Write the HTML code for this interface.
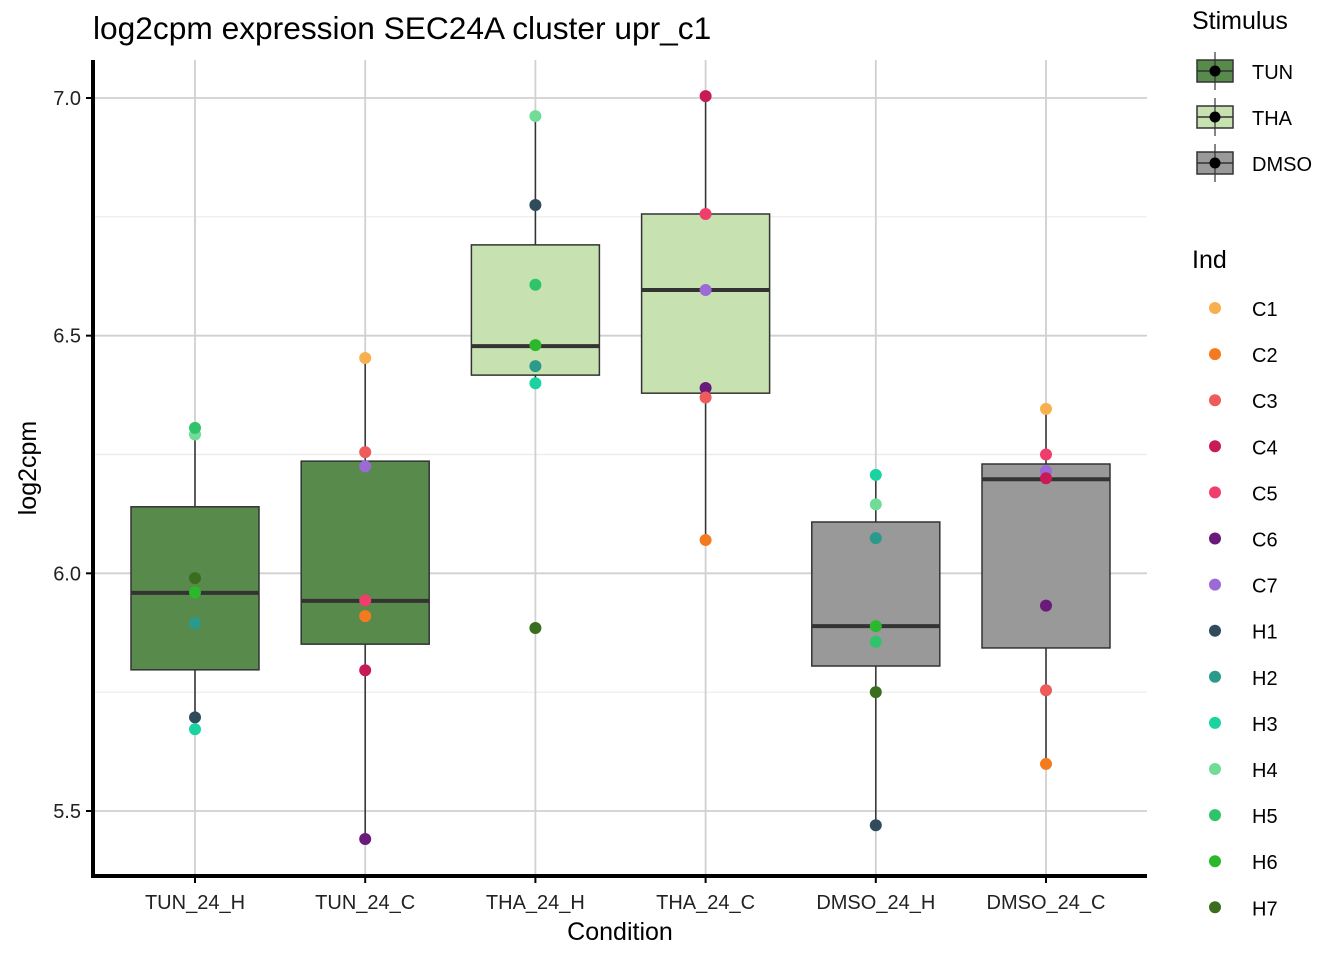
<!DOCTYPE html>
<html><head><meta charset="utf-8"><style>
body{margin:0;background:#fff;font-family:"Liberation Sans",Arial,sans-serif}
svg text{font-family:"Liberation Sans",Arial,sans-serif}
</style></head><body>
<svg id="chart" width="1344" height="960" xmlns="http://www.w3.org/2000/svg">
<text x="93" y="39" font-size="31.7" fill="#000">log2cpm expression SEC24A cluster upr_c1</text>
<g id="grid"></g><g id="boxes"></g><g id="pts"></g><g id="axes"></g><g id="legend"></g>
</svg>
<script>
const categories=["TUN_24_H","TUN_24_C","THA_24_H","THA_24_C","DMSO_24_H","DMSO_24_C"];
const stimulus=["TUN","TUN","THA","THA","DMSO","DMSO"];
const q1=[5.797,5.851,6.417,6.379,5.805,5.843];
const med=[5.959,5.942,6.478,6.596,5.889,6.198];
const q3=[6.140,6.236,6.691,6.756,6.108,6.230];
const wlo=[5.696,5.441,6.40,6.07,5.47,5.599];
const whi=[6.306,6.453,6.962,7.004,6.207,6.346];
const ptCat=[0,0,0,0,0,0,0, 1,1,1,1,1,1,1, 2,2,2,2,2,2,2, 3,3,3,3,3,3, 4,4,4,4,4,4,4, 5,5,5,5,5,5,5];
const ptInd=["H4","H5","H7","H6","H2","H1","H3", "C1","C3","C7","C5","C2","C4","C6", "H4","H1","H5","H6","H2","H3","H7", "C4","C5","C7","C6","C3","C2", "H3","H4","H2","H6","H5","H7","H1", "C1","C5","C7","C4","C6","C3","C2"];
const ptVal=[6.292,6.306,5.99,5.96,5.895,5.697,5.672, 6.453,6.255,6.225,5.943,5.91,5.796,5.441, 6.962,6.775,6.607,6.48,6.436,6.40,5.885, 7.004,6.756,6.596,6.39,6.37,6.07, 6.207,6.145,6.074,5.889,5.856,5.750,5.47, 6.346,6.25,6.215,6.20,5.932,5.754,5.599];
const yTicks=[5.5,6.0,6.5,7.0];
const yMinor=[5.75,6.25,6.75];
const stimNames=["TUN","THA","DMSO"];
const stimFill={TUN:"#588a4c",THA:"#c7e2b0",DMSO:"#999999"};
const indNames=["C1","C2","C3","C4","C5","C6","C7","H1","H2","H3","H4","H5","H6","H7"];
const indCol={C1:"#f8b04e",C2:"#f47a20",C3:"#ef5a5a",C4:"#c81a58",C5:"#ef3e6c",C6:"#6a1a7a",C7:"#9b6ad6",H1:"#2f4b5c",H2:"#2a9a8c",H3:"#1ad3a0",H4:"#70dc98",H5:"#30c46a",H6:"#2cb82c",H7:"#3a6e1e"};
const NS="http://www.w3.org/2000/svg";
const L=93,R=1147,T=60,B=876;
const y=v=>98+(7-v)*475.33;
const x=i=>195+i*170.2;
function mk(p,tag,a){const e=document.createElementNS(NS,tag);for(const k in a)e.setAttribute(k,a[k]);document.getElementById(p).appendChild(e);return e;}
yMinor.forEach(v=>{const e=mk("grid","line",{x1:L,x2:R,y1:y(v),y2:y(v),stroke:"#ebebeb","stroke-width":1.2});

});
yTicks.forEach(v=>{const e=mk("grid","line",{x1:L,x2:R,y1:y(v),y2:y(v),stroke:"#d0d0d0","stroke-width":1.8});

});
categories.forEach((c,i)=>{const e=mk("grid","line",{x1:x(i),x2:x(i),y1:T,y2:B,stroke:"#d0d0d0","stroke-width":1.8});

});
categories.forEach((c,i)=>{
const w=mk("boxes","line",{x1:x(i),x2:x(i),y1:y(whi[i]),y2:y(wlo[i]),stroke:"#333","stroke-width":1.5});


const r=mk("boxes","rect",{x:x(i)-64,y:y(q3[i]),width:128,height:y(q1[i])-y(q3[i]),fill:stimFill[stimulus[i]],stroke:"#333","stroke-width":1.5});


const m=mk("boxes","line",{x1:x(i)-64,x2:x(i)+64,y1:y(med[i]),y2:y(med[i]),stroke:"#333","stroke-width":4});


});
ptVal.forEach((v,k)=>{const e=mk("pts","circle",{cx:x(ptCat[k]),cy:y(v),r:6,fill:indCol[ptInd[k]]});

});
let e=mk("axes","line",{x1:L,x2:L,y1:T,y2:B+2,stroke:"#000","stroke-width":4});

e=mk("axes","line",{x1:L-2,x2:R,y1:B,y2:B,stroke:"#000","stroke-width":4});

yTicks.forEach(v=>{mk("axes","line",{x1:L-7,x2:L,y1:y(v),y2:y(v),stroke:"#000","stroke-width":2});
const t=mk("axes","text",{x:L-12,y:y(v)+7,"text-anchor":"end","font-size":20,fill:"#222"});t.textContent=v.toFixed(1);

});
categories.forEach((c,i)=>{mk("axes","line",{x1:x(i),x2:x(i),y1:B,y2:B+7,stroke:"#000","stroke-width":2});
const t=mk("axes","text",{x:x(i),y:909,"text-anchor":"middle","font-size":20,fill:"#222"});t.textContent=c;

});
e=mk("axes","text",{x:620,y:940,"text-anchor":"middle","font-size":25});e.textContent="Condition";

e=mk("axes","text",{x:36,y:468,"text-anchor":"middle","font-size":25,transform:"rotate(-90 36 468)"});e.textContent="log2cpm";

e=mk("legend","text",{x:1192,y:29,"font-size":25});e.textContent="Stimulus";

stimNames.forEach((s,k)=>{const cy=71+k*46;
const r=mk("legend","rect",{x:1197,y:cy-11,width:36,height:22,fill:stimFill[s],stroke:"#333","stroke-width":1.5});


mk("legend","line",{x1:1215,x2:1215,y1:cy-19,y2:cy+19,stroke:"#333","stroke-width":1.2});
mk("legend","line",{x1:1197,x2:1233,y1:cy,y2:cy,stroke:"#333","stroke-width":1.5});
mk("legend","circle",{cx:1215,cy:cy,r:5.5,fill:"#000"});
const t=mk("legend","text",{x:1252,y:cy+8,"font-size":20});t.textContent=s;

});
e=mk("legend","text",{x:1192,y:268,"font-size":25});e.textContent="Ind";

indNames.forEach((n,k)=>{const cy=308+k*46.1;
const c=mk("legend","circle",{cx:1215,cy:cy,r:6,fill:indCol[n]});


const t=mk("legend","text",{x:1252,y:cy+8,"font-size":20});t.textContent=n;

});
</script>
</body></html>
